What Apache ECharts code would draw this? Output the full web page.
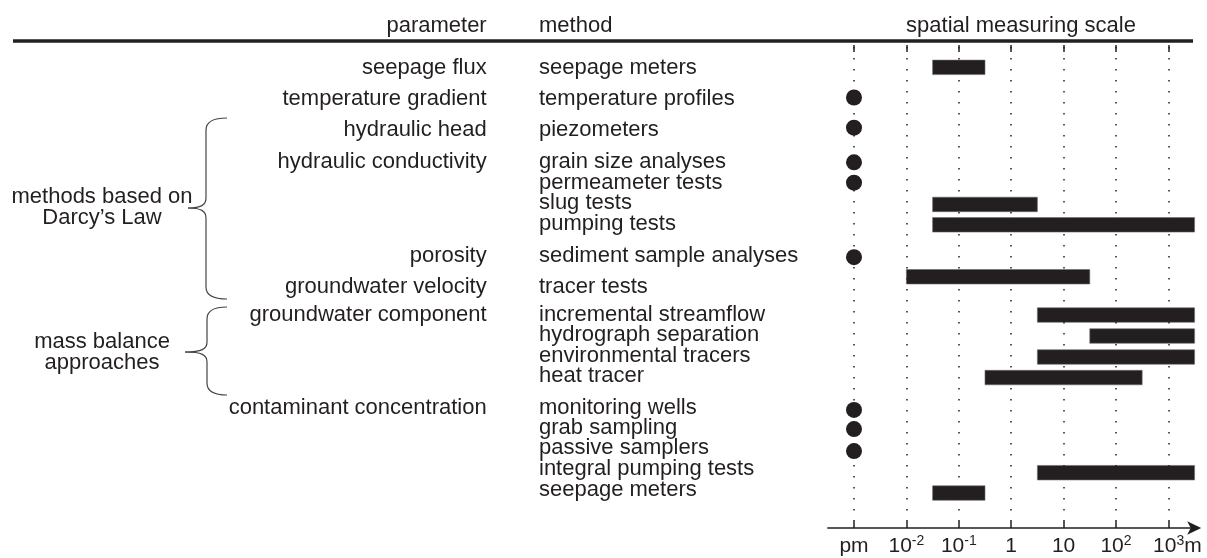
<!DOCTYPE html>
<html>
<head>
<meta charset="utf-8">
<script src="https://cdn.jsdelivr.net/npm/echarts@6/dist/echarts.min.js"></script>
<style>
  html, body { margin: 0; padding: 0; background: #fff; }
  #chart { width: 1207px; height: 558px; }
</style>
</head>
<body>
<div id="chart"></div>
<script>
// methods, one per row, top to bottom
const methods = [
  'seepage meters', 'temperature profiles', 'piezometers', 'grain size analyses',
  'permeameter tests', 'slug tests', 'pumping tests', 'sediment sample analyses',
  'tracer tests', 'incremental streamflow', 'hydrograph separation',
  'environmental tracers', 'heat tracer', 'monitoring wells', 'grab sampling',
  'passive samplers', 'integral pumping tests', 'seepage meters'
];
// row position of the marks (in text lines from the first row)
const rowPos = [0, 1.48, 2.96, 4.66, 5.66, 6.73, 7.73, 9.32, 10.28, 12.16, 13.19,
  14.22, 15.23, 16.82, 17.76, 18.84, 19.9, 20.9];
// row position of the method / parameter texts
const textPos = [0.05, 1.55, 3.05, 4.66, 5.66, 6.68, 7.7, 9.25, 10.8, 12.16, 13.12,
  14.15, 15.15, 16.72, 17.7, 18.7, 19.72, 20.75];
// spatial scale as log10(m); null = point measurement (pm)
const scaleFrom = [-1.5, null, null, null, null, -1.5, -1.5, null, -2, 0.5, 1.5,
  0.5, -0.5, null, null, null, 0.5, -1.5];
const scaleTo = [-0.5, null, null, null, null, 0.5, 3.5, null, 1.5, 3.5, 3.5,
  3.5, 2.5, null, null, null, 3.5, -0.5];

const parameters = ['seepage flux', 'temperature gradient', 'hydraulic head',
  'hydraulic conductivity', 'porosity', 'groundwater velocity',
  'groundwater component', 'contaminant concentration'];
const parameterRow = [0, 1, 2, 3, 7, 8, 9, 13];

const groups = ['methods based on\nDarcy\u2019s Law', 'mass balance\napproaches'];

// axis: pm is drawn one decade left of 10^-2
const pmValue = -3;
const tickValues = [-3, -2, -1, 0, 1, 2, 3];
const tickLabels = ['pm', '10^-2', '10^-1', '1', '10', '10^2', '10^3'];
const unit = 'm';

const FONT = '"Liberation Sans", Arial, sans-serif';
const INK = '#231f20';

const barData = [];
const dotData = [];
methods.forEach((m, i) => {
  if (scaleFrom[i] === null) dotData.push([pmValue, rowPos[i]]);
  else barData.push([scaleFrom[i], scaleTo[i], rowPos[i]]);
});

const labelFmt = (v) => {
  const idx = tickValues.findIndex((t) => Math.abs(t - v) < 1e-6);
  if (idx < 0) return '';
  const parts = tickLabels[idx].split('^');
  let s = '{n|' + parts[0] + '}';
  if (parts[1]) s += '{s|' + parts[1] + '}';
  if (idx === tickValues.length - 1) s = '{pad|}' + s + '{n|' + unit + '}';
  return s;
};

const chart = echarts.init(document.getElementById('chart'));

chart.setOption({
  animation: false,
  grid: { left: 827.8, right: 9.8, top: 47, bottom: 40.5 },
  xAxis: [
    {
      type: 'value',
      min: -3.5,
      max: 3.55,
      position: 'bottom',
      offset: 10.5,
      axisLine: {
        show: true,
        onZero: false,
        symbol: ['none', 'arrow'],
        symbolSize: [10, 14],
        symbolOffset: [0, 4],
        lineStyle: { color: INK, width: 1.5 }
      },
      axisTick: {
        show: true,
        inside: true,
        length: 8,
        customValues: tickValues,
        lineStyle: { color: INK, width: 1.5 }
      },
      axisLabel: {
        show: true,
        margin: 6,
        customValues: tickValues,
        formatter: labelFmt,
        rich: {
          n: { fontFamily: FONT, fontSize: 21, color: INK, lineHeight: 24 },
          s: { fontFamily: FONT, fontSize: 14, color: INK, lineHeight: 14, verticalAlign: 'top' },
          pad: { width: 18 }
        }
      },
      splitLine: { show: false }
    },
    {
      type: 'value',
      min: -3.5,
      max: 3.55,
      position: 'top',
      offset: 2,
      axisLine: { show: false, onZero: false },
      axisTick: {
        show: true,
        inside: true,
        length: 7,
        customValues: tickValues,
        lineStyle: { color: INK, width: 1.5 }
      },
      axisLabel: { show: false },
      splitLine: { show: false }
    }
  ],
  yAxis: {
    type: 'value',
    inverse: true,
    min: -1,
    max: 22.1,
    show: false
  },
  series: [
    {
      type: 'scatter',
      data: dotData,
      symbol: 'circle',
      symbolSize: 16,
      itemStyle: { color: INK, opacity: 1 },
      z: 3,
      markLine: {
        silent: true,
        symbol: 'none',
        label: { show: false },
        lineStyle: { color: INK, width: 1.5, type: [1.5, 9.5] },
        data: tickValues.map((v) => ({ xAxis: v }))
      }
    },
    {
      type: 'custom',
      data: barData,
      encode: { x: [0, 1], y: 2 },
      z: 3,
      renderItem: (params, api) => {
        const a = api.coord([api.value(0), api.value(2)]);
        const b = api.coord([api.value(1), api.value(2)]);
        const h = 14.5;
        return {
          type: 'rect',
          shape: { x: a[0], y: a[1] - h / 2, width: b[0] - a[0], height: h },
          style: { fill: INK, stroke: '#6d6a6b', lineWidth: 0.6 }
        };
      }
    }
  ]
});

// text columns placed on the rows through the y scale
const rowY = (r) => chart.convertToPixel({ yAxisIndex: 0 }, r);
const txt = (text, x, y, align) => ({
  type: 'text',
  x: x,
  y: y,
  style: {
    text: text,
    fill: INK,
    font: '22px ' + FONT,
    textAlign: align,
    textVerticalAlign: 'middle',
    lineHeight: 21
  }
});

const curve = (p) => ({
  type: 'bezierCurve',
  shape: { x1: p[0], y1: p[1], cpx1: p[2], cpy1: p[3], cpx2: p[4], cpy2: p[5], x2: p[6], y2: p[7] },
  style: { fill: 'none', stroke: '#444', lineWidth: 1.2 }
});
const seg = (x1, y1, x2, y2) => ({
  type: 'line',
  shape: { x1: x1, y1: y1, x2: x2, y2: y2 },
  style: { stroke: '#444', lineWidth: 1.2 }
});
// curly brace: tip at xt, spine at xs, open ends at xe
const brace = (xt, xs, xe, yt, ym, yb) => [
  curve([xe, yt, xs + 7, yt, xs, yt + 4, xs, yt + 12]),
  seg(xs, yt + 12, xs, ym - 10),
  curve([xs, ym - 10, xs, ym - 3, xs - 5, ym, xt, ym]),
  curve([xt, ym, xs - 5, ym, xs, ym + 3, xs, ym + 10]),
  seg(xs, ym + 10, xs, yb - 12),
  curve([xs, yb - 12, xs, yb - 4, xs + 7, yb, xe, yb])
];

const graphics = [];
graphics.push(txt('parameter', 486.7, 26, 'right'));
graphics.push(txt('method', 539, 26, 'left'));
graphics.push(txt('spatial measuring scale', 1021, 26, 'center'));
graphics.push({
  type: 'line',
  shape: { x1: 13, y1: 41, x2: 1193, y2: 41 },
  style: { stroke: INK, lineWidth: 3.5 }
});
methods.forEach((m, i) => graphics.push(txt(m, 539, rowY(textPos[i]), 'left')));
parameters.forEach((p, i) =>
  graphics.push(txt(p, 486.7, rowY(textPos[parameterRow[i]]), 'right')));

// group braces
graphics.push(txt(groups[0], 102, 207, 'center'));
graphics.push(txt(groups[1], 102, 352, 'center'));
brace(188, 206, 227, 118, 208, 299).forEach((g) => graphics.push(g));
brace(185, 207, 227, 307, 352, 395).forEach((g) => graphics.push(g));

chart.setOption({ graphic: graphics });
</script>
</body>
</html>
